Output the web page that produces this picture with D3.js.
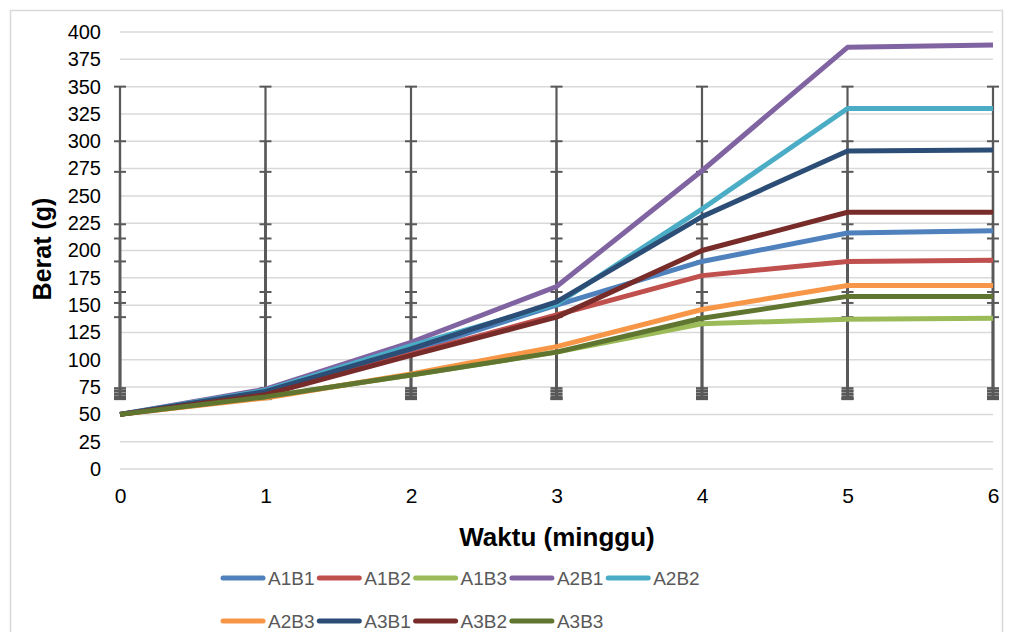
<!DOCTYPE html>
<html>
<head>
<meta charset="utf-8">
<script src="https://cdn.jsdelivr.net/npm/d3@7"></script>
<style>
  body { margin: 0; background: #fff; }
  text { font-family: "Liberation Sans", Arial, sans-serif; }
</style>
</head>
<body>
<div id="chart"></div>
<script>
// Weeks on the x axis
const weeks = [0, 1, 2, 3, 4, 5, 6];
const yTicks = d3.range(0, 401, 25);

// Series names, colours and values (berat in g)
const seriesNames = ["A1B1", "A1B2", "A1B3", "A2B1", "A2B2", "A2B3", "A3B1", "A3B2", "A3B3"];
const seriesColors = ["#4f81bd", "#c0504d", "#9bbb59", "#8064a2", "#4bacc6", "#f79646", "#2c4d75", "#772c2a", "#5f7530"];
const A1B1 = [50, 70, 108, 150, 190, 216, 218];
const A1B2 = [50, 69, 105, 141, 177, 190, 191];
const A1B3 = [50, 66, 86, 107, 133, 137, 138];
const A2B1 = [50, 73, 116, 167, 273, 386, 388];
const A2B2 = [50, 72, 113, 151, 238, 330, 330];
const A2B3 = [50, 65, 87, 112, 146, 168, 168];
const A3B1 = [50, 71, 110, 153, 231, 291, 292];
const A3B2 = [50, 68, 104, 139, 200, 235, 235];
const A3B3 = [50, 66, 86, 107, 138, 158, 158];
const seriesValues = [A1B1, A1B2, A1B3, A2B1, A2B2, A2B3, A3B1, A3B2, A3B3];

// Error bar ends (same at every week)
const errHigh = [350, 300, 272, 224, 211, 190, 162, 152, 139];
const errLow = [74, 72, 71, 69, 68, 66, 65, 64, 64];

const W = 1013, H = 632;
const margin = {top: 32, right: 20, bottom: 163, left: 120};
const width = 993 - margin.left, height = 469 - margin.top;

const svg = d3.select("#chart").append("svg")
    .attr("width", W).attr("height", H);

// outer frame
svg.append("rect")
    .attr("x", 10.5).attr("y", 10.5)
    .attr("width", 992).attr("height", 640)
    .attr("fill", "none").attr("stroke", "#d9d9d9").attr("stroke-width", 1.5);

const g = svg.append("g").attr("transform", `translate(${margin.left},${margin.top})`);

const x = d3.scaleLinear().domain([0, 6]).range([0, width]);
const y = d3.scaleLinear().domain([0, 400]).range([height, 0]);

// gridlines
g.append("g").selectAll("line").data(yTicks).join("line")
    .attr("x1", 0).attr("x2", width)
    .attr("y1", d => y(d)).attr("y2", d => y(d))
    .attr("stroke", "#d9d9d9").attr("stroke-width", 1.5);

// y axis labels
const yAxis = g.append("g").call(d3.axisLeft(y).tickValues(yTicks).tickSize(0).tickPadding(19));
yAxis.select(".domain").remove();
yAxis.selectAll("text").attr("font-size", 20).attr("fill", "#000")
    .style("font-family", "'Liberation Sans', Arial, sans-serif");

// x axis labels
const xAxis = g.append("g").attr("transform", `translate(0,${height})`)
    .call(d3.axisBottom(x).tickValues(weeks).tickFormat(d3.format("d")).tickSize(0).tickPadding(19));
xAxis.select(".domain").remove();
xAxis.selectAll("text").attr("font-size", 21).attr("fill", "#000")
    .style("font-family", "'Liberation Sans', Arial, sans-serif");

// error bars
const errColor = "#595959";
seriesNames.forEach((name, i) => {
  const eb = g.append("g");
  eb.selectAll("line.v").data(weeks).join("line").attr("class", "v")
      .attr("x1", d => x(d)).attr("x2", d => x(d))
      .attr("y1", y(errLow[i])).attr("y2", y(errHigh[i]))
      .attr("stroke", errColor).attr("stroke-width", 2.2);
  [errLow[i], errHigh[i]].forEach(v => {
    eb.selectAll(null).data(weeks).join("line")
        .attr("x1", d => x(d) - 6).attr("x2", d => x(d) + 6)
        .attr("y1", y(v)).attr("y2", y(v))
        .attr("stroke", errColor).attr("stroke-width", 2);
  });
});

// lines
const line = d3.line().x((d, i) => x(weeks[i])).y(d => y(d));
seriesValues.forEach((vals, i) => {
  g.append("path").datum(vals)
      .attr("d", line)
      .attr("fill", "none")
      .attr("stroke", seriesColors[i])
      .attr("stroke-width", 5)
      .attr("stroke-linejoin", "round");
});

// axis titles
svg.append("text")
    .attr("transform", "translate(51,249) rotate(-90)")
    .attr("text-anchor", "middle")
    .attr("font-size", 25).attr("font-weight", "bold")
    .text("Berat (g)");
svg.append("text")
    .attr("x", 557).attr("y", 546)
    .attr("text-anchor", "middle")
    .attr("font-size", 26).attr("font-weight", "bold")
    .text("Waktu (minggu)");

// legend
const legend = svg.append("g");
seriesNames.forEach((name, i) => {
  const row = i < 5 ? 0 : 1;
  const col = i < 5 ? i : i - 5;
  const lx = 223 + col * 96.3, ly = 578 + row * 43;
  legend.append("line")
      .attr("x1", lx).attr("x2", lx + 40)
      .attr("y1", ly).attr("y2", ly)
      .attr("stroke", seriesColors[i]).attr("stroke-width", 5)
      .attr("stroke-linecap", "round");
  legend.append("text")
      .attr("x", lx + 45).attr("y", ly + 7)
      .attr("font-size", 19).attr("fill", "#595959")
      .text(name);
});
</script>
</body>
</html>
